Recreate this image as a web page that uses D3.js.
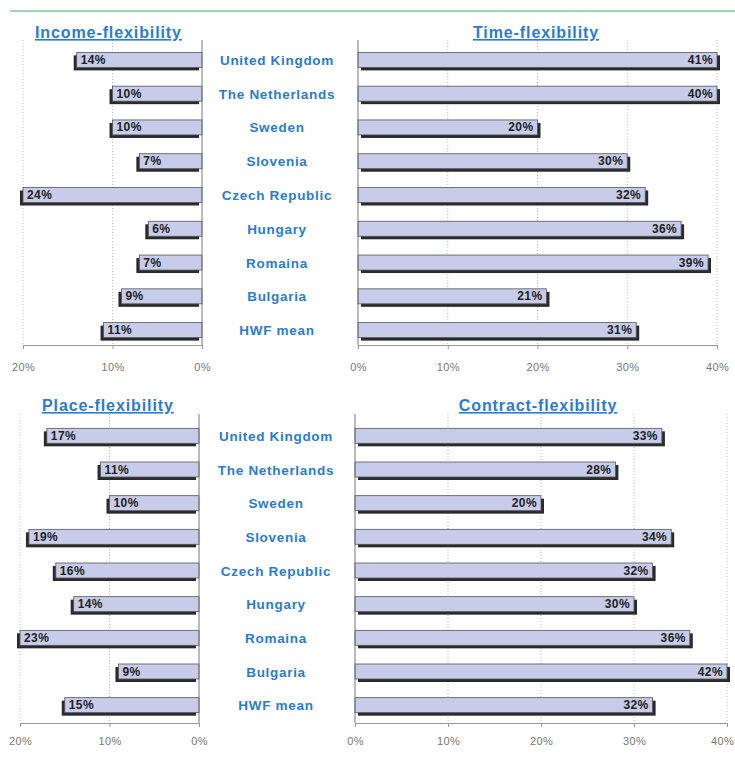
<!DOCTYPE html>
<html>
<head>
<meta charset="utf-8">
<script src="https://cdn.jsdelivr.net/npm/d3@7"></script>
<style>
  body { margin: 0; background: #fff; }
  text { font-family: "Liberation Sans", Arial, sans-serif; }
</style>
</head>
<body>
<svg id="svg1" width="735" height="769"></svg>
<script>
var countries = ["United Kingdom", "The Netherlands", "Sweden", "Slovenia", "Czech Republic", "Hungary", "Romaina", "Bulgaria", "HWF mean"];
var income = [14, 10, 10, 7, 24, 6, 7, 9, 11];
var time = [41, 40, 20, 30, 32, 36, 39, 21, 31];
var place = [17, 11, 10, 19, 16, 14, 23, 9, 15];
var contract = [33, 28, 20, 34, 32, 30, 36, 42, 32];
var leftTicks = [20, 10, 0];
var rightTicks = [0, 10, 20, 30, 40];

var svg1 = d3.select("#svg1");
var blue = "#2a7ccf";
var barFill = "#c6cce9";

// green rule at the top
svg1.append("line")
  .attr("x1", 10).attr("x2", 735).attr("y1", 11).attr("y2", 11)
  .attr("stroke", "#86c2a0").attr("stroke-width", 1.5);

function drawPanel(opts) {
  var g = svg1.append("g");
  var x = d3.scaleLinear().domain(opts.domain).range(opts.range).clamp(true);
  var y = d3.scaleBand().domain(countries).range(opts.rows).paddingInner(0.5).paddingOuter(0.25);
  var x0 = x(0);
  var left = opts.side == "left";

  // dotted grid
  g.selectAll(".grid")
    .data(opts.ticks.filter(function(t) { return t != 0; }))
    .enter().append("line")
    .attr("x1", function(d) { return x(d); })
    .attr("x2", function(d) { return x(d); })
    .attr("y1", opts.top).attr("y2", opts.axisY)
    .attr("stroke", "#bbb").attr("stroke-dasharray", "1,2");

  // bars: shadow then body
  var h = 15;
  g.selectAll(".shadow")
    .data(opts.values)
    .enter().append("rect")
    .attr("x", function(d) { return Math.min(x(d), x0) + (left ? -3 : 3); })
    .attr("y", function(d, i) { return y(countries[i]) + y.bandwidth() / 2 - h / 2 + 3; })
    .attr("width", function(d) { return Math.abs(x(d) - x0); })
    .attr("height", h)
    .attr("fill", "#2a2a2a");
  g.selectAll(".bar")
    .data(opts.values)
    .enter().append("rect")
    .attr("x", function(d) { return Math.min(x(d), x0); })
    .attr("y", function(d, i) { return y(countries[i]) + y.bandwidth() / 2 - h / 2; })
    .attr("width", function(d) { return Math.abs(x(d) - x0); })
    .attr("height", h)
    .attr("fill", barFill)
    .attr("stroke", "#555").attr("stroke-width", 0.8);

  g.selectAll(".val")
    .data(opts.values)
    .enter().append("text")
    .attr("x", function(d) { return left ? x(d) + 4 : x(d) - 4; })
    .attr("y", function(d, i) { return y(countries[i]) + y.bandwidth() / 2 + 4; })
    .attr("text-anchor", left ? "start" : "end")
    .attr("font-size", 12).attr("font-weight", "bold").attr("fill", "#222")
    .attr("letter-spacing", 0.4)
    .text(function(d) { return d + "%"; });

  // vertical axis line at 0
  g.append("line")
    .attr("x1", x0).attr("x2", x0).attr("y1", opts.top).attr("y2", opts.axisY)
    .attr("stroke", "#777");

  // bottom axis
  var axis = d3.axisBottom(x).tickValues(opts.ticks).tickSize(4)
    .tickFormat(function(d) { return d + "%"; });
  var ax = g.append("g").attr("transform", "translate(0," + opts.axisY + ")").call(axis);
  ax.select(".domain").attr("stroke", "#999");
  ax.selectAll(".tick line").attr("stroke", "#999");
  ax.selectAll(".tick text").attr("font-size", 11).attr("fill", "#777")
    .attr("letter-spacing", 0.4)
    .attr("dy", opts.tickDy).attr("font-family", "Liberation Sans, Arial, sans-serif")
    .attr("dx", function(d) { return d == 40 ? opts.lastDx : 0; });

  // title
  g.append("text")
    .attr("x", opts.titleX).attr("y", opts.titleY)
    .attr("text-anchor", opts.titleAnchor)
    .attr("font-size", 16).attr("font-weight", "bold").attr("fill", blue)
    .attr("letter-spacing", 0.9)
    .attr("text-decoration", "underline")
    .text(opts.title);

  return y;
}

var topRows = [43, 347];
var botRows = [419, 722];
var yTop = drawPanel({ side: "left", values: income, domain: [20, 0], range: [23, 202], ticks: leftTicks, top: 40, axisY: 345, rows: topRows, tickDy: "1.7em", lastDx: 0, title: "Income-flexibility", titleX: 35, titleY: 38, titleAnchor: "start" });
drawPanel({ side: "right", values: time, domain: [0, 40], range: [358, 717], ticks: rightTicks, top: 40, axisY: 345, rows: topRows, tickDy: "1.7em", lastDx: 0, title: "Time-flexibility", titleX: 536, titleY: 38, titleAnchor: "middle" });
var yBot = drawPanel({ side: "left", values: place, domain: [20, 0], range: [20, 199], ticks: leftTicks, top: 414, axisY: 723, rows: botRows, tickDy: "1.4em", lastDx: 0, title: "Place-flexibility", titleX: 42, titleY: 411, titleAnchor: "start" });
drawPanel({ side: "right", values: contract, domain: [0, 40], range: [355, 727], ticks: rightTicks, top: 414, axisY: 723, rows: botRows, tickDy: "1.4em", lastDx: -5, title: "Contract-flexibility", titleX: 538, titleY: 411, titleAnchor: "middle" });

// country labels in the middle
[[yTop, 277], [yBot, 276]].forEach(function(p) {
  svg1.append("g").selectAll("text")
    .data(countries)
    .enter().append("text")
    .attr("x", p[1])
    .attr("y", function(d) { return p[0](d) + p[0].bandwidth() / 2 + 5; })
    .attr("text-anchor", "middle")
    .attr("font-size", 13.5).attr("font-weight", "bold").attr("fill", blue)
    .attr("letter-spacing", 0.7)
    .text(function(d) { return d; });
});
</script>
</body>
</html>
